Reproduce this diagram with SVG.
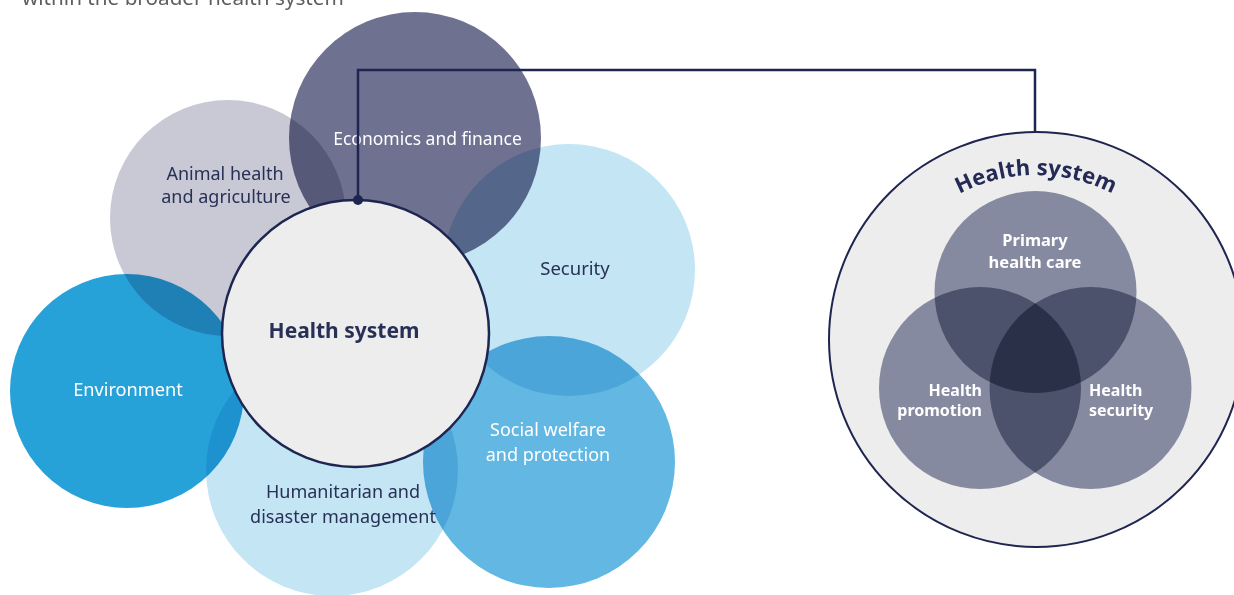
<svg xmlns="http://www.w3.org/2000/svg" xmlns:xlink="http://www.w3.org/1999/xlink" width="1234" height="595" viewBox="0 0 1234 595">
<style>
.blend{mix-blend-mode:multiply}
.t{font-family:"Noto Sans","Liberation Sans",sans-serif;text-anchor:middle}
.f{font-family:"Noto Sans","Liberation Sans",sans-serif}
.w{fill:#ffffff}
.n{fill:#283056}
.b{font-weight:bold}
.venn{fill:#9095ac;mix-blend-mode:multiply}
</style>
<defs>
<path id="arc" d="M 871 340 A 165 165 0 0 1 1201 340"/>
</defs>
<rect width="1234" height="595" fill="#ffffff"/>
<text x="22" y="5" font-family="Noto Sans, Liberation Sans, sans-serif" font-size="20.7" fill="#5e5e5e">within the broader health system</text>

<g id="cluster" style="isolation:isolate">
<g id="animal"><circle class="blend" cx="228" cy="218" r="118" fill="#c8c9d5"/></g>
<g id="economics"><circle class="blend" cx="415" cy="138" r="126" fill="#6e7290"/></g>
<g id="security"><circle class="blend" cx="569" cy="270" r="126" fill="#c3e5f4"/></g>
<g id="environment"><circle class="blend" cx="127" cy="391" r="117" fill="#27a2d9"/></g>
<g id="humanitarian"><circle class="blend" cx="332" cy="470" r="126" fill="#c3e5f4"/></g>
<g id="social"><circle class="blend" cx="549" cy="462" r="126" fill="#62b8e2"/></g>
</g>

<g id="labels-cluster">
<text class="t w" x="427.5" y="145" font-size="17.5">Economics and finance</text>
<text class="t n" x="225" y="180" font-size="18">Animal health</text>
<text class="t n" x="226" y="203" font-size="18">and  agriculture</text>
<text class="t n" x="575" y="275" font-size="18.5">Security</text>
<text class="t w" x="128" y="396" font-size="18.2">Environment</text>
<text class="t w" x="548" y="436" font-size="18">Social welfare</text>
<text class="t w" x="548" y="461" font-size="18">and protection</text>
<text class="t n" x="343" y="498" font-size="18">Humanitarian and</text>
<text class="t n" x="343" y="523" font-size="18">disaster management</text>
</g>

<g id="connectors">
<polyline points="358,200 358,70 1035,70 1035,132" fill="none" stroke="#1e2550" stroke-width="2.5"/>
</g>

<g id="center-health-system">
<circle cx="355.5" cy="333.5" r="133.5" fill="#ededed" stroke="#1e2550" stroke-width="2.5"/>
<circle cx="358" cy="200" r="5" fill="#1e2550"/>
<text class="t n b" x="344" y="338" font-size="21">Health system</text>
</g>

<g id="health-system-detail">
<circle cx="1036.5" cy="339.5" r="207.5" fill="#ededed" stroke="#1e2550" stroke-width="2"/>
<text font-family="Open Sans, Noto Sans, sans-serif" font-weight="bold" font-size="22" fill="#232a56" text-anchor="middle" letter-spacing="0.1"><textPath xlink:href="#arc" href="#arc" startOffset="50%">Health system</textPath></text>
<g id="primary-health-care"><circle class="venn" cx="1035.5" cy="292" r="101"/></g>
<g id="health-promotion"><circle class="venn" cx="980" cy="388" r="101"/></g>
<g id="health-security"><circle class="venn" cx="1090.5" cy="388" r="101"/></g>
<text class="t w b" x="1035" y="246" font-size="16.5">Primary<tspan x="1035" y="268">health care</tspan></text>
<text class="f w b" x="982" y="396" font-size="16" text-anchor="end">Health<tspan x="982" y="416">promotion</tspan></text>
<text class="f w b" x="1089" y="396" font-size="16">Health<tspan x="1089" y="416">security</tspan></text>
</g>
</svg>
